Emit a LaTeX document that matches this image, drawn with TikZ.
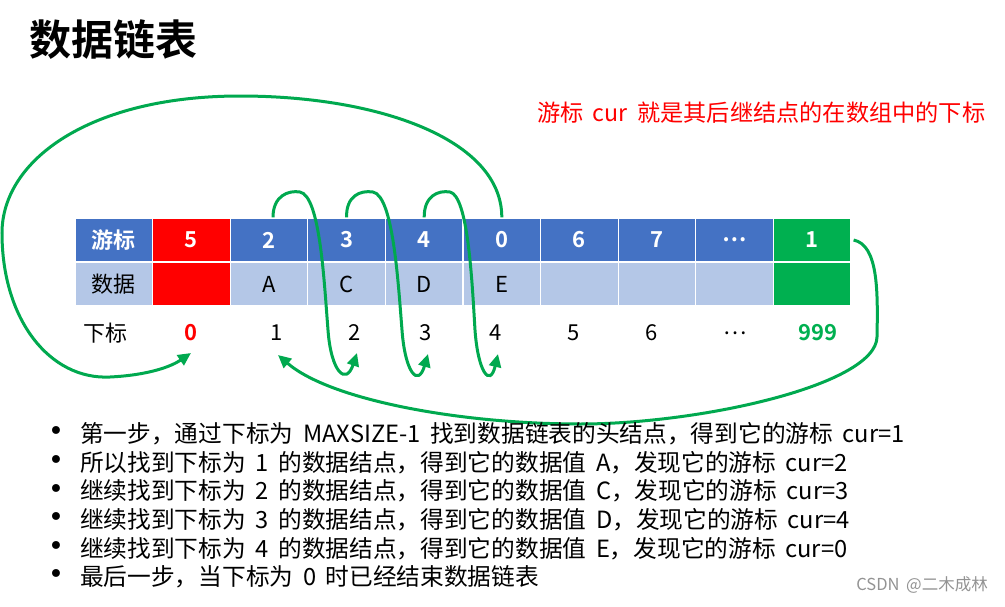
\documentclass[tikz,border=0pt]{standalone}
\usepackage{fontspec}
\setmainfont{Noto Sans CJK SC}[BoldFont={Noto Sans CJK SC Bold},WordSpace=1.8]
\newfontfamily\dotfont{DejaVu Sans}
\usetikzlibrary{arrows.meta}
\definecolor{hblue}{HTML}{4472C4}
\definecolor{dblue}{HTML}{B4C7E7}
\definecolor{cred}{HTML}{FF0000}
\definecolor{cgreen}{HTML}{00B050}
\definecolor{agreen}{HTML}{00A94F}
\begin{document}
\begin{tikzpicture}[x=1pt,y=1pt,
  cell/.style={draw=white, line width=1.2pt, minimum width=77.6pt, minimum height=44pt, inner sep=0pt},
  hcell/.style={cell, fill=hblue, text=white, font=\fontsize{22}{26}\selectfont\bfseries},
  dcell/.style={cell, fill=dblue, text=black, font=\fontsize{22}{26}\selectfont},
  idx/.style={inner sep=0pt, font=\fontsize{22}{26}\selectfont},
  arr/.style={draw=agreen, line width=3pt, -{Triangle[length=13pt,width=12pt]}},
  bul/.style={anchor=west, inner sep=0pt, font=\fontsize{23.7}{26}\selectfont},
  dot/.style={inner sep=0pt, font=\dotfont\fontsize{27}{30}\selectfont}
]
\fill[white] (0,0) rectangle (1005,-606);
\useasboundingbox (0,0) rectangle (1005,-606);

% title
\node[anchor=west, inner sep=0pt, font=\fontsize{42}{46}\selectfont\bfseries] (title) at (29,-40) {数据链表};
\node[anchor=west, inner sep=0pt, text=cred, font=\fontsize{23.2}{26}\selectfont] (note) at (537,-113) {游标 cur 就是其后继结点的在数组中的下标};

% header row
\node[hcell] (h0) at (113.8,-240) {游标};
\node[hcell, fill=cred] (h1) at (191.4,-240) {5};
\node[hcell] (h2) at (269.0,-240) {2};
\node[hcell] (h3) at (346.6,-240) {3};
\node[hcell] (h4) at (424.2,-240) {4};
\node[hcell] (h5) at (501.8,-240) {0};
\node[hcell] (h6) at (579.4,-240) {6};
\node[hcell] (h7) at (657.0,-240) {7};
\node[hcell] (h8) at (734.6,-240) {…};
\node[hcell, fill=cgreen] (h9) at (812.2,-240) {1};
% data row
\node[dcell] (d0) at (113.8,-284) {数据};
\node[dcell, fill=cred] (d1) at (191.4,-284) {};
\node[dcell] (d2) at (269.0,-284) {A};
\node[dcell] (d3) at (346.6,-284) {C};
\node[dcell] (d4) at (424.2,-284) {D};
\node[dcell] (d5) at (501.8,-284) {E};
\node[dcell] (d6) at (579.4,-284) {};
\node[dcell] (d7) at (657.0,-284) {};
\node[dcell] (d8) at (734.6,-284) {};
\node[dcell, fill=cgreen] (d9) at (812.2,-284) {};
% index row
\node[idx] (i0) at (105,-333) {下标};
\node[idx, text=cred, font=\fontsize{22}{26}\selectfont\bfseries] (i1) at (191,-333) {0};
\node[idx] (i2) at (277,-333) {1};
\node[idx] (i3) at (355,-333) {2};
\node[idx] (i4) at (426,-333) {3};
\node[idx] (i5) at (496,-333) {4};
\node[idx] (i6) at (574,-333) {5};
\node[idx] (i7) at (652,-333) {6};
\node[idx] (i8) at (735,-333) {…};
\node[idx, text=cgreen, font=\fontsize{22}{26}\selectfont\bfseries] (i9) at (818,-333) {999};

% arrows
\draw[arr] (h5.north) .. controls (502,-140) and (380,-96) .. (240,-96)
  .. controls (90,-96) and (2,-160) .. (2,-233)
  .. controls (2,-320) and (50,-380) .. (110,-377)
  .. controls (150,-375) and (172,-366) .. ([yshift=-20pt]i1.center);
\draw[arr] ([xshift=4pt]h2.north) .. controls (273,-196) and (288,-190) .. (300,-192)
  .. controls (320,-196) and (324,-280) .. (328,-330)
  .. controls (331,-372) and (346,-386) .. ([xshift=2pt,yshift=-20pt]i3.center);
\draw[arr] (h3.north) .. controls (346,-196) and (360,-190) .. (373,-192)
  .. controls (393,-196) and (398,-280) .. (402,-330)
  .. controls (405,-372) and (418,-388) .. ([xshift=2pt,yshift=-21pt]i4.center);
\draw[arr] (h4.north) .. controls (424,-196) and (438,-190) .. (450,-192)
  .. controls (468,-196) and (472,-280) .. (475,-330)
  .. controls (478,-372) and (490,-388) .. ([xshift=2pt,yshift=-21pt]i5.center);
\draw[arr] ([xshift=2pt]h9.east) .. controls (878,-245) and (878,-290) .. (877,-337)
  .. controls (876,-385) and (700,-424) .. (580,-424)
  .. controls (460,-424) and (330,-400) .. ([xshift=1pt,yshift=-22pt]i2.center);

% bullets
\node[dot] (p1) at (56,-434) {•};
\node[dot] (p2) at (56,-462.6) {•};
\node[dot] (p3) at (56,-491.2) {•};
\node[dot] (p4) at (56,-519.8) {•};
\node[dot] (p5) at (56,-548.4) {•};
\node[dot] (p6) at (56,-577) {•};
\node[bul] (b1) at (80,-434) {第一步，通过下标为 MAXSIZE-1 找到数据链表的头结点，得到它的游标 cur=1};
\node[bul] (b2) at (80,-462.6) {所以找到下标为 1 的数据结点，得到它的数据值 A，发现它的游标 cur=2};
\node[bul] (b3) at (80,-491.2) {继续找到下标为 2 的数据结点，得到它的数据值 C，发现它的游标 cur=3};
\node[bul] (b4) at (80,-519.8) {继续找到下标为 3 的数据结点，得到它的数据值 D，发现它的游标 cur=4};
\node[bul] (b5) at (80,-548.4) {继续找到下标为 4 的数据结点，得到它的数据值 E，发现它的游标 cur=0};
\node[bul] (b6) at (80,-577) {最后一步，当下标为 0 时已经结束数据链表};

% watermark
\node[anchor=east, inner sep=0pt, text=gray!85, font=\fontsize{16.5}{20}\selectfont] (wm) at (988,-585) {CSDN @二木成林};
\end{tikzpicture}
\end{document}
